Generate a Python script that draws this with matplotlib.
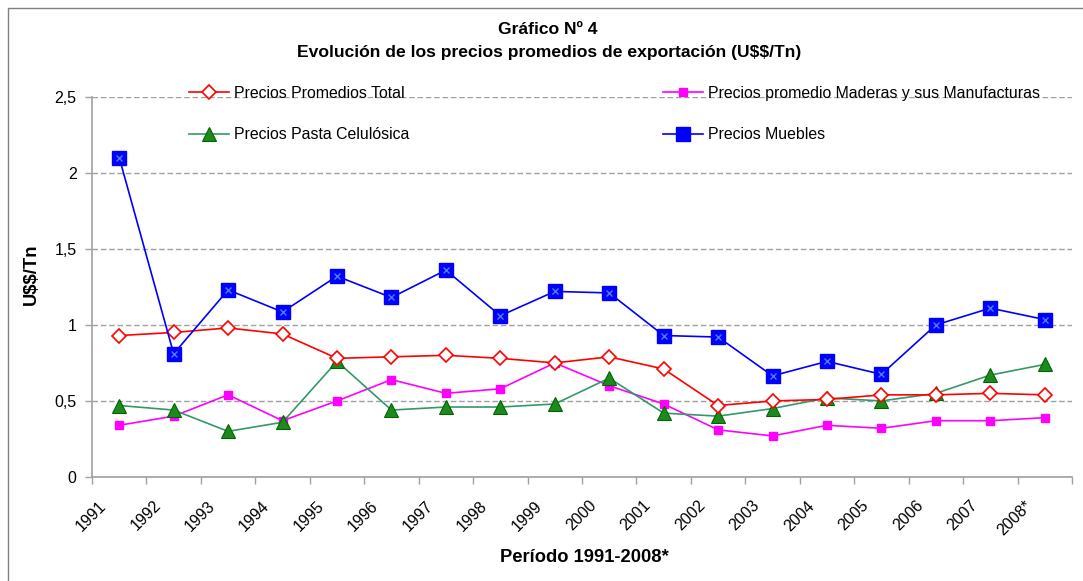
import matplotlib
matplotlib.use("Agg")
import matplotlib.pyplot as plt
from matplotlib.patches import Rectangle
import matplotlib.transforms as mtransforms
import numpy as np

plt.rcParams['font.family'] = ['Liberation Sans', 'DejaVu Sans']
plt.rcParams['text.parse_math'] = False

years = ["1991", "1992", "1993", "1994", "1995", "1996", "1997", "1998", "1999",
         "2000", "2001", "2002", "2003", "2004", "2005", "2006", "2007", "2008*"]

total = [0.93, 0.95, 0.98, 0.94, 0.78, 0.79, 0.80, 0.78, 0.75,
         0.79, 0.71, 0.47, 0.50, 0.51, 0.54, 0.54, 0.55, 0.54]
maderas = [0.34, 0.40, 0.54, 0.37, 0.50, 0.64, 0.55, 0.58, 0.75,
           0.60, 0.48, 0.31, 0.27, 0.34, 0.32, 0.37, 0.37, 0.39]
pasta = [0.47, 0.44, 0.30, 0.36, 0.76, 0.44, 0.46, 0.46, 0.48,
         0.65, 0.42, 0.40, 0.45, 0.52, 0.50, 0.55, 0.67, 0.74]
muebles = [2.10, 0.81, 1.23, 1.085, 1.32, 1.18, 1.36, 1.06, 1.22,
           1.21, 0.93, 0.92, 0.665, 0.76, 0.675, 1.00, 1.11, 1.035]

yticks = [0, 0.5, 1, 1.5, 2, 2.5]
ytick_labels = ["0", "0,5", "1", "1,5", "2", "2,5"]

W, H = 1083, 581
fig = plt.figure(figsize=(W / 100, H / 100), dpi=100)
ax = fig.add_axes([92 / W, 1 - 477 / H, (1072 - 92) / W, (477 - 96.7) / H])

x = np.arange(len(years))

# figure border
fig.patches.append(Rectangle((8 / W, -0.1), 1.2, 1 - 8 / H + 0.1, transform=fig.transFigure,
                             fill=False, edgecolor='#808080', linewidth=1.0))

l1, = ax.plot(x, total, color='#FF0000', lw=1.2, marker='D', ms=7.5,
              mfc='white', mec='#FF0000', mew=1.2, label='Precios Promedios Total', zorder=4)
l2, = ax.plot(x, maderas, color='#FF00FF', lw=1.2, marker='s', ms=6,
              mfc='#FF00FF', mec='#FF00FF', label='Precios promedio Maderas y sus Manufacturas', zorder=3)
l3, = ax.plot(x, pasta, color='#339966', lw=1.2, marker='^', ms=9.5,
              mfc='#1E8A1E', mec='#006400', mew=0.8, label='Precios Pasta Celulósica', zorder=3)
l4, = ax.plot(x, muebles, color='#0000FF', lw=1.2, marker='s', ms=10.5,
              mfc='#0000FF', mec='#0000FF', label='Precios Muebles', zorder=5)
ax.plot(x, muebles, ls='none', marker='x', ms=4, mec='#4D7BFF', mew=1.0, zorder=6)

ax.set_xlim(-0.5, len(years) - 0.5)
ax.set_ylim(0, 2.5)
ax.set_yticks(yticks)
ax.set_yticklabels(ytick_labels, fontsize=11.5)
ax.yaxis.grid(True, color='#A0A0A0', linestyle=(0, (4, 2)), linewidth=1.0)
ax.set_axisbelow(True)

ax.set_xticks(np.arange(len(years) + 1) - 0.5)
ax.set_xticklabels([])
ax.tick_params(axis='x', direction='out', length=5, color='#A0A0A0', width=1)
ax.tick_params(axis='y', direction='out', length=5, color='#A0A0A0', width=1, pad=6)

for s in ['top', 'right']:
    ax.spines[s].set_visible(False)
for s in ['left', 'bottom']:
    ax.spines[s].set_color('#A0A0A0')
    ax.spines[s].set_linewidth(1.2)

off = mtransforms.ScaledTranslation(-10 / 100, -21 / 100, fig.dpi_scale_trans)
for i, lab in enumerate(years):
    ax.text(i, 0, lab, rotation=45, ha='right', va='top', fontsize=11.5,
            transform=ax.get_xaxis_transform() + off)

fig.text(548 / W, 1 - 29 / H, "Gráfico Nº 4", ha='center', va='center',
         fontsize=12.6, fontweight='bold')
fig.text(549 / W, 1 - 52 / H, "Evolución de los precios promedios de exportación (U$$/Tn)",
         ha='center', va='center', fontsize=12.6, fontweight='bold')
fig.text(31 / W, 1 - 274 / H, "U$$/Tn", rotation=90, ha='center', va='center',
         fontsize=13.2, fontweight='bold')
fig.text(584 / W, 1 - 557 / H, "Período 1991-2008*", ha='center', va='center',
         fontsize=13.2, fontweight='bold')

leg_kw = dict(frameon=False, fontsize=11.4, borderpad=0, borderaxespad=0,
              handlelength=2.55, handletextpad=0.35, labelspacing=1.66,
              loc='upper left', bbox_transform=fig.transFigure)
leg1 = ax.legend(handles=[l1, l3], bbox_to_anchor=(188.5 / W, 1 - 86 / H), **leg_kw)
ax.add_artist(leg1)
leg2 = ax.legend(handles=[l2, l4], bbox_to_anchor=(662.5 / W, 1 - 86 / H), **leg_kw)

fig.savefig("out.png", dpi=100)
